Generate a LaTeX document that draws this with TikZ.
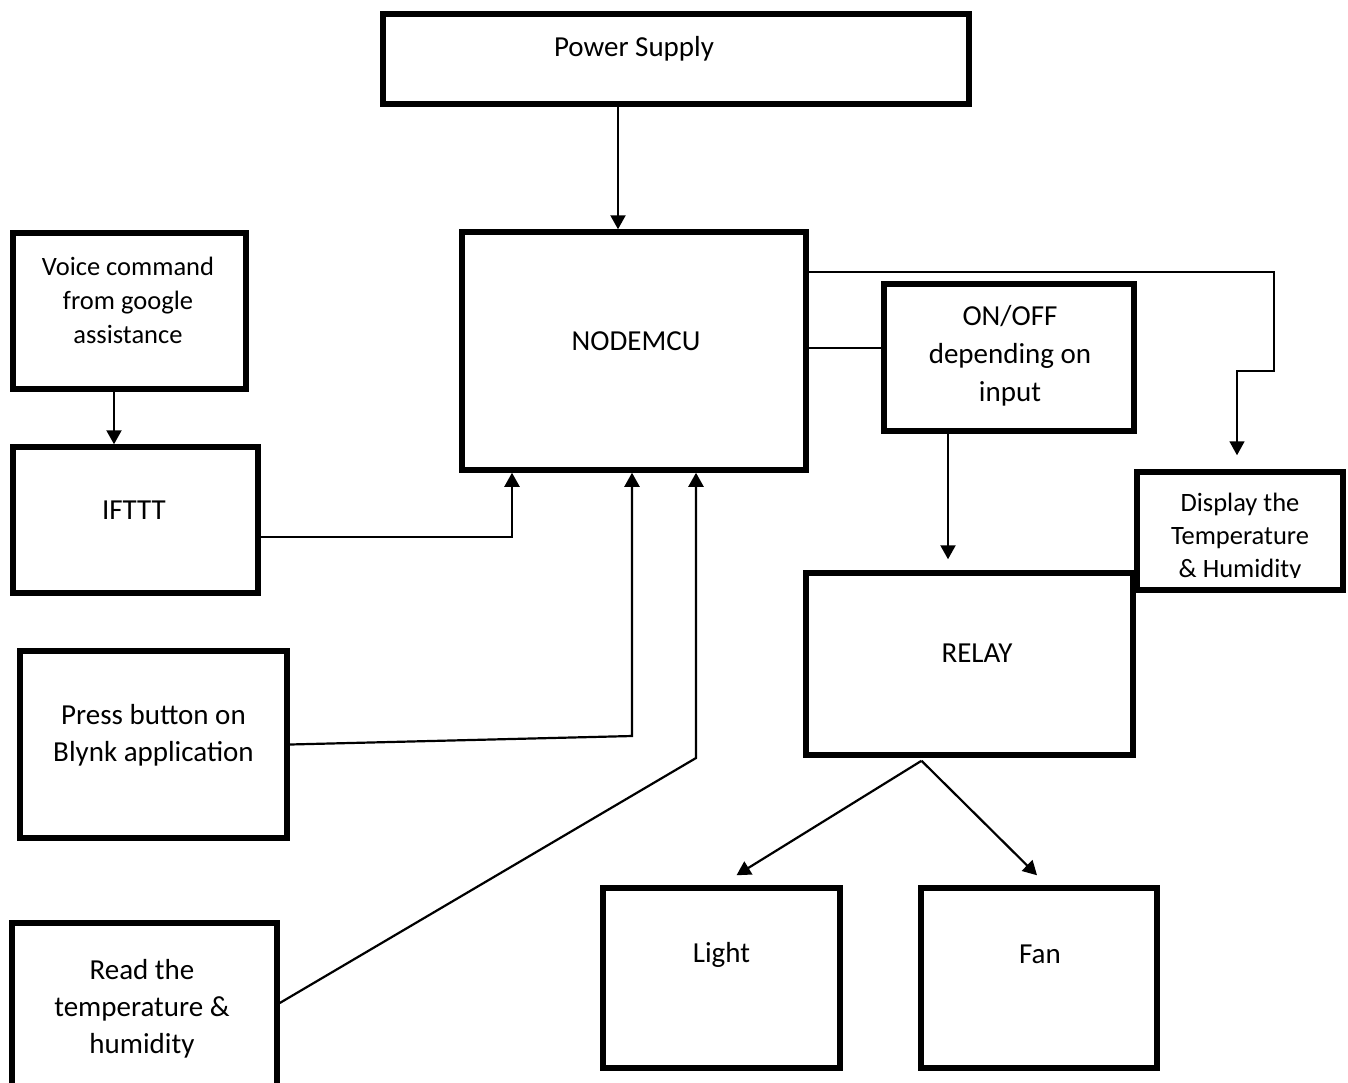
\documentclass[tikz,border=0pt]{standalone}
\usepackage{fontspec}
\setmainfont{Carlito}
\usetikzlibrary{arrows.meta,fit}
\tikzset{
  box/.style={draw, line width=2.75pt, inner sep=0pt},
  conn/.style={line width=1.1pt},
  thinconn/.style={line width=0.8pt},
  arr/.style={conn, -{Triangle[length=7pt,width=7.5pt]}},
  thinarr/.style={thinconn, -{Triangle[length=7pt,width=7.5pt]}},
  txt/.style={font=\fontsize{14.5}{18.5}\selectfont, align=center, inner sep=0pt},
  stxt/.style={font=\fontsize{13.25}{17}\selectfont, align=center, inner sep=0pt}
}
\begin{document}
\begin{tikzpicture}[x=0.5pt,y=-0.5pt]
\useasboundingbox (0,0) rectangle (1348,1082);
% boxes
\node[box, fit={(383,14) (969,104)}, label={[txt,xshift=-21pt,yshift=5pt]center:Power Supply}] (ps) {};
\node[box, fit={(13,233) (246,389)}, label={[stxt,xshift=-0.75pt,yshift=5.5pt]center:{Voice command\\from google\\assistance}}] (vc) {};
\node[box, fit={(13,447) (258,593)}, label={[txt,xshift=-0.75pt,yshift=5pt]center:IFTTT}] (if) {};
\node[box, fit={(462,232) (806,470)}, label={[txt,xshift=1pt,yshift=5pt]center:NODEMCU}] (nm) {};
\node[box, fit={(884,284) (1134,431)}, label={[txt,font=\fontsize{14.5}{19}\selectfont,xshift=0.5pt,yshift=1pt]center:{ON/OFF\\depending on\\input}}] (oo) {};
\node[box, fit={(1137,472) (1343,590)}] (dp) {};
\begin{scope}
  \clip (1140,474) rectangle (1341,577);
  \node[stxt, font=\fontsize{13.25}{16.5}\selectfont] (dpt) at (1240,537) {Display the\\Temperature\\\& Humidity};
\end{scope}
\node[box, fit={(806,573) (1133,755)}, label={[txt,xshift=3.75pt,yshift=5.5pt]center:RELAY}] (rl) {};
\node[box, fit={(603,888) (840,1068)}, label={[txt,yshift=11.5pt]center:Light}] (lt) {};
\node[box, fit={(921,888) (1157,1068)}, label={[txt,xshift=0.5pt,yshift=12pt]center:Fan}] (fn) {};
\node[box, fit={(20,651) (287,838)}, label={[txt,yshift=4.5pt]center:{Press button on\\Blynk application}}] (pb) {};
\node[box, fit={(12,923) (277,1100)}, label={[txt,xshift=-1.25pt,yshift=1.25pt]center:{Read the\\temperature \&\\humidity}}] (rd) {};
% bend points
\coordinate (pbend) at (632,736);
\coordinate (rbend) at (696,758);
\coordinate (dbend) at (1274,371);
% connectors
\draw[arr] ([xshift=-29pt]ps.south) -- ([xshift=-29pt]ps.south |- nm.north);
\draw[arr] ([xshift=-7.75pt]vc.south) -- ([xshift=-7.75pt]vc.south |- if.north);
\draw[arr] ([yshift=-8.5pt]if.east) -| ([xshift=-61pt]nm.south);
\draw[arr] (pb.east) -- (pbend) -- (pbend |- nm.south);
\draw[arr] ([yshift=4.25pt]rd.east) -- (rbend) -- (rbend |- nm.south);
\draw[thinconn] ([yshift=1.5pt]nm.east) -- ([yshift=1.5pt]nm.east -| oo.west);
\draw[thinarr, shorten >=7pt] ([yshift=39.5pt]nm.east) -| (dbend) -| ([xshift=-1.5pt]dp.north);
\draw[arr, shorten >=5.5pt] ([xshift=-30.5pt]oo.south) -- ([xshift=-30.5pt]oo.south |- rl.north);
\draw[arr] ([xshift=-24pt,yshift=-1.5pt]rl.south) -- ([xshift=7.5pt,yshift=5pt]lt.north);
\draw[arr] ([xshift=-24pt,yshift=-1.5pt]rl.south) -- ([xshift=-1pt,yshift=5pt]fn.north);
\end{tikzpicture}
\end{document}
